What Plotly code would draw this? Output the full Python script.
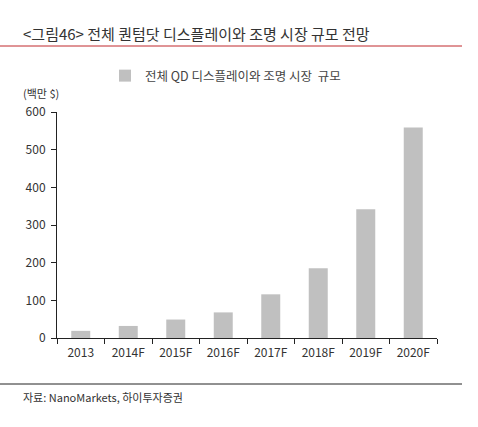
import plotly.graph_objects as go

categories = ["2013", "2014F", "2015F", "2016F", "2017F", "2018F", "2019F", "2020F"]
values = [19, 32, 49, 68, 116, 185, 342, 559]
series_name = "전체 QD 디스플레이와 조명 시장  규모"
y_ticks = [0, 100, 200, 300, 400, 500, 600]

W, H = 478, 427
L, R, T, B = 57, 41, 112, 89
pw, ph = W - L - R, H - T - B

def px(x):
    return (x - L) / pw

def py(y):
    return (H - B - y) / ph

FONT = "Liberation Sans Narrow, Noto Sans CJK KR, sans-serif"

fig = go.Figure()
fig.add_trace(go.Bar(
    x=categories, y=values, name=series_name,
    marker=dict(color="#c0c0c0", line=dict(width=0)),
))

fig.update_layout(
    width=W, height=H,
    margin=dict(l=L, r=R, t=T, b=B, autoexpand=False),
    paper_bgcolor="white", plot_bgcolor="white",
    bargap=0.6,
    font=dict(family=FONT, size=12, color="#333333"),
    showlegend=True,
    legend=dict(x=px(105), y=py(76), xanchor="left", yanchor="middle",
                font=dict(size=12.5, color="#444444"), bgcolor="rgba(0,0,0,0)",
                itemwidth=30, tracegroupgap=0),
    xaxis=dict(showline=True, linecolor="#222222", linewidth=1,
               ticks="outside", tickson="boundaries", ticklen=5, tickcolor="#222222",
               ticklabelstandoff=4,
               tickfont=dict(size=12, color="#333333"), showgrid=False),
    yaxis=dict(range=[0, 600], tickvals=y_ticks, showline=True, linecolor="#222222",
               linewidth=1, ticks="outside", ticklen=5, tickcolor="#222222",
               ticklabelstandoff=3,
               tickfont=dict(size=12, color="#333333"), showgrid=False, zeroline=False),
    shapes=[
        dict(type="line", xref="paper", yref="paper", x0=px(0), x1=px(462),
             y0=py(46), y1=py(46), line=dict(color="#c0282d", width=1)),
        dict(type="line", xref="paper", yref="paper", x0=px(0), x1=px(462),
             y0=py(384), y1=py(384), line=dict(color="#222222", width=1)),
    ],
    annotations=[
        dict(text="<그림46> 전체 퀀텀닷 디스플레이와 조명 시장 규모 전망", xref="paper", yref="paper",
             x=px(21), y=py(34), xanchor="left", yanchor="middle", showarrow=False,
             font=dict(size=15, color="#333333")),
        dict(text="(백만 $)", xref="paper", yref="paper",
             x=px(21), y=py(93), xanchor="left", yanchor="middle", showarrow=False,
             font=dict(size=11, color="#333333")),
        dict(text="자료: NanoMarkets, 하이투자증권", xref="paper", yref="paper",
             x=px(21), y=py(397), xanchor="left", yanchor="middle", showarrow=False,
             font=dict(size=11, color="#333333")),
    ],
)

fig.write_html("out.html", config={"displayModeBar": False},
               post_script="document.body.style.margin='0';document.body.style.overflow='hidden';")
